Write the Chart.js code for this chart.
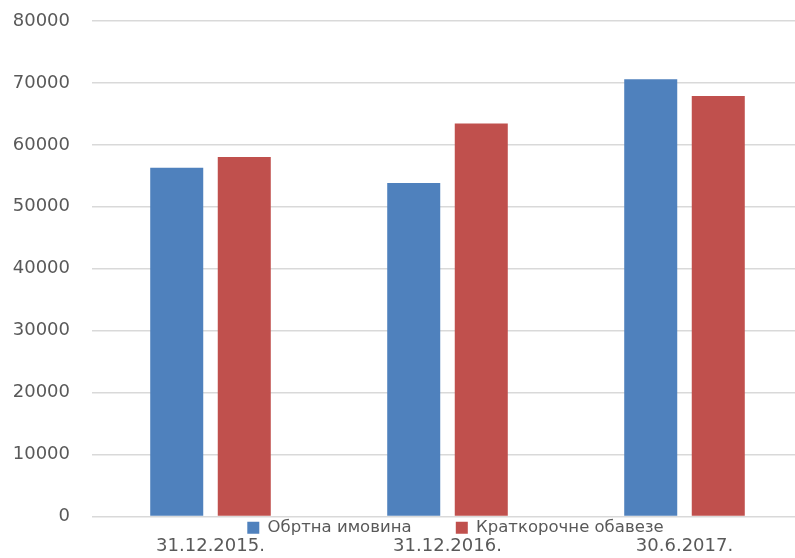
<!DOCTYPE html>
<html>
<head>
<meta charset="utf-8">
<script src="https://cdn.jsdelivr.net/npm/chart.js@4"></script>
<style>
  html, body { margin: 0; padding: 0; background: #fff; overflow: hidden; }
  #wrap { width: 811px; height: 558px; position: relative; }
</style>
</head>
<body>
<div id="wrap"><canvas id="c"></canvas></div>
<script>
const categories = ['31.12.2015.', '31.12.2016.', '30.6.2017.'];
const seriesNames = ['Обртна имовина', 'Краткорочне обавезе'];
const obrtnaImovina = [56300, 53850, 70600];
const kratkorocneObaveze = [58050, 63440, 67900];
const yTicks = [0, 10000, 20000, 30000, 40000, 50000, 60000, 70000, 80000];

const FONT = 'DejaVu Sans';
const TEXT = '#595959';

const layoutTweak = {
  id: 'layoutTweak',
  afterLayout(chart) {
    const area = chart.chartArea;
    const lg = chart.legend;
    if (lg) {
      lg.left += 8; lg.right += 8;
      const h = lg.height;
      lg.top = area.bottom;
      lg.bottom = area.bottom + h;
    }
    const x = chart.scales.x;
    x.top = area.bottom;
    x.bottom = chart.height;
  }
};

new Chart(document.getElementById('c'), {
  type: 'bar',
  data: {
    labels: categories,
    datasets: [
      { label: seriesNames[0], data: obrtnaImovina, backgroundColor: '#4F81BD',
        categoryPercentage: 0.57, barPercentage: 0.785 },
      { label: seriesNames[1], data: kratkorocneObaveze, backgroundColor: '#C0504D',
        categoryPercentage: 0.57, barPercentage: 0.785 }
    ]
  },
  plugins: [layoutTweak],
  options: {
    responsive: true,
    maintainAspectRatio: false,
    animation: false,
    layout: { padding: { left: 0, right: 8, top: 21, bottom: 0 } },
    plugins: {
      tooltip: { enabled: false },
      legend: {
        position: 'bottom',
        fullSize: false,
        labels: {
          boxWidth: 12, boxHeight: 12, padding: 3,
          color: TEXT,
          font: { family: FONT, size: 16.5 },
          generateLabels: (chart) => {
            const items = Chart.defaults.plugins.legend.labels.generateLabels(chart);
            items.forEach((it, i) => { if (i < items.length - 1) it.text = it.text + '\u2003\u2003\u2002'; });
            return items;
          }
        }
      }
    },
    scales: {
      x: {
        grid: { display: false, drawTicks: false },
        border: { display: false },
        ticks: { color: TEXT, font: { family: FONT, size: 18 }, padding: 19, maxRotation: 0 },
        afterFit: (s) => { s.height = 12; }
      },
      y: {
        min: 0, max: 80000,
        afterBuildTicks: (s) => { s.ticks = yTicks.map(v => ({ value: v })); },
        grid: { color: '#d9d9d9', lineWidth: 1.5, drawTicks: false },
        border: { display: false },
        ticks: { color: TEXT, font: { family: FONT, size: 18 }, padding: 22,
                 callback: (v) => String(v) },
        afterFit: (s) => { s.width = 92; s.paddingTop = 0; s.paddingBottom = 0; }
      }
    }
  }
});
</script>
</body>
</html>
